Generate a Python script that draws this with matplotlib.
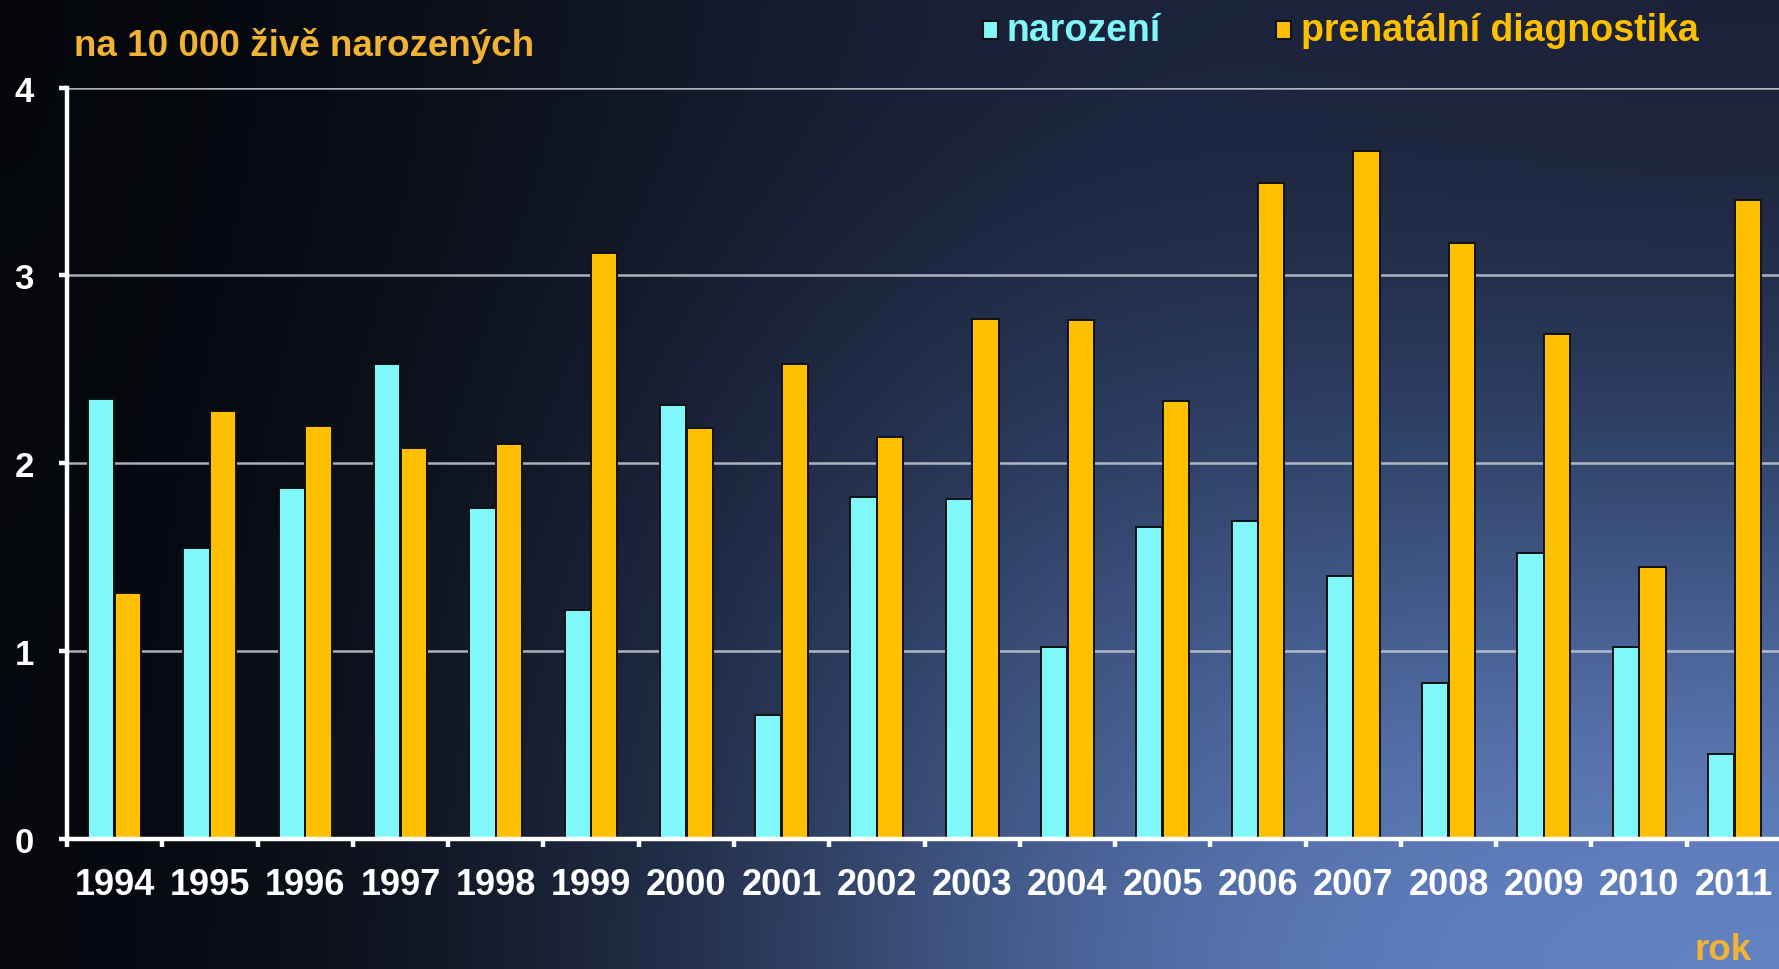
import numpy as np
import matplotlib
matplotlib.use("Agg")
import matplotlib.pyplot as plt
from matplotlib.colors import to_rgb

years = ["1994", "1995", "1996", "1997", "1998", "1999", "2000", "2001", "2002",
         "2003", "2004", "2005", "2006", "2007", "2008", "2009", "2010", "2011"]
narozeni = [2.34, 1.55, 1.87, 2.53, 1.76, 1.22, 2.31, 0.66, 1.82,
            1.81, 1.02, 1.66, 1.69, 1.40, 0.83, 1.52, 1.02, 0.45]
prenatalni = [1.31, 2.28, 2.20, 2.08, 2.10, 3.12, 2.19, 2.53, 2.14,
              2.77, 2.76, 2.33, 3.49, 3.66, 3.17, 2.69, 1.45, 3.40]
y_ticks = [0, 1, 2, 3, 4]

CYAN = "#80f7fb"
ORANGE = "#ffc000"
TXT_ORANGE = "#f2b233"
FAM = ["Liberation Sans", "DejaVu Sans"]

W, H = 1779, 970
fig = plt.figure(figsize=(W / 100, H / 100), dpi=100)

# background gradient: dark on the left/top, blue towards bottom right
bg = fig.add_axes([0, 0, 1, 1], zorder=0)
grid_cols = [
    ["#04060a", "#121827", "#1c2540", "#1b2136"],
    ["#05070c", "#182036", "#34476f", "#30446c"],
    ["#05070c", "#1e2840", "#5472ae", "#6585c5"],
]
img = np.array([[to_rgb(c) for c in row] for row in grid_cols])
bg.imshow(img, aspect="auto", interpolation="bicubic", extent=[0, 1, 0, 1])
bg.set_axis_off()

ax = fig.add_axes([67 / W, 130 / H, 1715 / W, (840 - 88.5) / H], zorder=1)
ax.patch.set_alpha(0)

x = np.arange(len(years))
w = 0.275
ax.bar(x - 0.14, narozeni, w, color=CYAN, edgecolor="#111111", linewidth=1.4, zorder=3)
ax.bar(x + 0.14, prenatalni, w, color=ORANGE, edgecolor="#111111", linewidth=1.4, zorder=3)

ax.set_xlim(-0.5, len(years) - 0.5)
ax.set_ylim(0, 4)
for v in y_ticks[1:]:
    ax.axhline(v, color="#c8ccd4", lw=1.8, alpha=0.85, zorder=1)

for s in ["top", "right"]:
    ax.spines[s].set_visible(False)
for s in ["left", "bottom"]:
    ax.spines[s].set_color("white")
    ax.spines[s].set_linewidth(3.2)
    ax.spines[s].set_zorder(4)

ax.set_yticks(y_ticks)
ax.set_yticklabels([str(v) for v in y_ticks])
ax.set_xticks(x)
ax.set_xticklabels(years)
ax.set_xticks(np.arange(-0.5, len(years)), minor=True)
ax.tick_params(axis="x", which="major", length=0, pad=20, colors="white")
ax.tick_params(axis="x", which="minor", length=6, width=3.2, color="white", direction="out")
ax.tick_params(axis="y", length=6, width=3.2, color="white", pad=18, colors="white")
for lbl in ax.get_xticklabels():
    lbl.set_fontfamily(FAM)
    lbl.set_fontweight("bold")
    lbl.set_fontsize(26)
for lbl in ax.get_yticklabels():
    lbl.set_fontfamily(FAM)
    lbl.set_fontweight("bold")
    lbl.set_fontsize(25)

fig.text(74 / W, 1 - 46 / H, "na 10 000 živě narozených", color=TXT_ORANGE,
         fontsize=26.5, fontweight="bold", family=FAM, va="center", ha="left")
fig.text(1 - 27 / W, 1 - 968 / H, "rok", color=TXT_ORANGE,
         fontsize=26.5, fontweight="bold", family=FAM, va="bottom", ha="right")

# legend
for sx, tx, label, col in [(983, 1007, "narození", CYAN),
                           (1276, 1301, "prenatální diagnostika", ORANGE)]:
    fig.patches.append(plt.Rectangle((sx / W, 1 - 40 / H), 15 / W, 18 / H,
                                     transform=fig.transFigure, facecolor=col,
                                     edgecolor="#111111", linewidth=1.5, zorder=5))
    fig.text(tx / W, 1 - 31 / H, label, color=col, fontsize=27,
             fontweight="bold", family=FAM, va="center", ha="left")

fig.savefig("out.png", dpi=100)
